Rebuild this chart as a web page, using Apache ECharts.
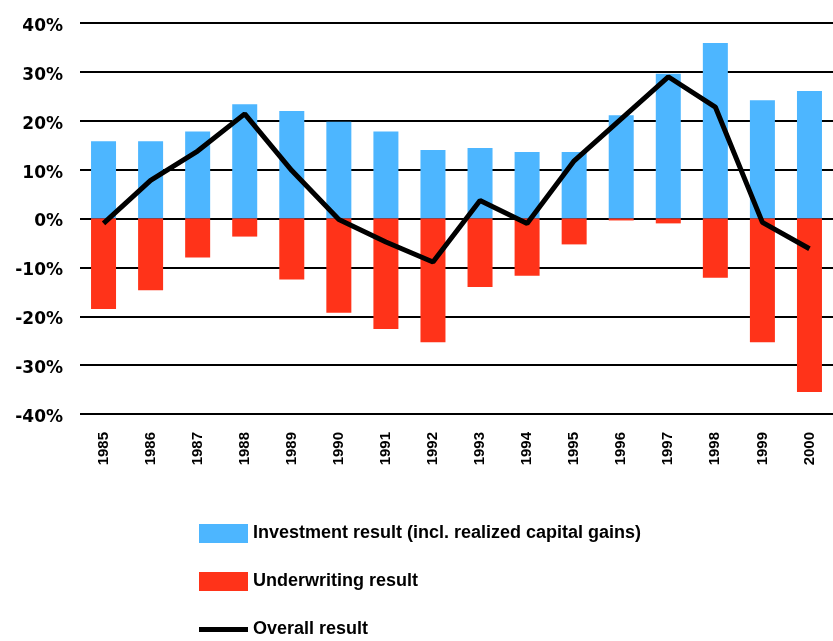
<!DOCTYPE html>
<html>
<head>
<meta charset="utf-8">
<script src="https://cdn.jsdelivr.net/npm/echarts@6/dist/echarts.min.js"></script>
<style>
  html, body { margin: 0; padding: 0; background: #fff; }
  #chart { width: 833px; height: 641px; }
</style>
</head>
<body>
<div id="chart"></div>
<script>
const years = ['1985', '1986', '1987', '1988', '1989', '1990', '1991', '1992',
               '1993', '1994', '1995', '1996', '1997', '1998', '1999', '2000'];

// values in percent
const investment = [15.8, 15.8, 17.8, 23.4, 22.0, 19.8, 17.8, 14.0,
                    14.4, 13.6, 13.6, 21.1, 29.6, 35.9, 24.2, 26.1];
const underwriting = [-18.5, -14.7, -8.0, -3.7, -12.5, -19.3, -22.6, -25.3,
                      -14.0, -11.7, -5.3, -0.4, -1.0, -12.1, -25.3, -35.5];
const overall = [-1.0, 7.8, 13.8, 21.4, 9.8, -0.2, -4.8, -8.9,
                 3.7, -1.0, 11.8, 20.4, 29.0, 22.8, -0.8, -6.2];

const chart = echarts.init(document.getElementById('chart'));

const narrowFont = '"Liberation Sans Narrow", "Liberation Sans", Arial, sans-serif';
const wideFont = '"DejaVu Sans", "Liberation Sans", sans-serif';

chart.setOption({
    animation: false,
    backgroundColor: '#fff',
    grid: { left: 80, right: -11, top: 23, height: 391 },
    legend: {
        orient: 'vertical',
        left: 199,
        top: 524,
        padding: 0,
        itemWidth: 49,
        itemHeight: 19,
        itemGap: 29,
        textStyle: {
            fontFamily: narrowFont, fontWeight: 'bold', fontSize: 18,
            lineHeight: 19, color: '#000'
        },
        data: [
            { name: 'Investment result (incl. realized capital gains)', icon: 'rect' },
            { name: 'Underwriting result', icon: 'rect' },
            // thin bar inside a full-height box, so it reads as a thick line
            { name: 'Overall result', icon: 'path://M0,0 M0,7 L49,7 L49,12 L0,12 Z M49,19' }
        ]
    },
    xAxis: {
        type: 'category',
        data: years,
        axisLine: { show: false },
        axisTick: { show: false },
        axisLabel: {
            rotate: 90,
            margin: 18,
            fontFamily: narrowFont,
            fontWeight: 'bold',
            fontSize: 15,
            color: '#000'
        }
    },
    yAxis: {
        type: 'value',
        min: -40,
        max: 40,
        interval: 10,
        axisLine: { show: false },
        axisTick: { show: false },
        axisLabel: {
            margin: 17,
            formatter: '{p|{value}%}',
            rich: {
                p: {
                    padding: [7, 0, 0, 0],
                    fontFamily: wideFont,
                    fontWeight: 'bold',
                    fontSize: 17,
                    color: '#000'
                }
            }
        },
        splitLine: { lineStyle: { color: '#000', width: 2 } }
    },
    series: [
        {
            name: 'Investment result (incl. realized capital gains)',
            type: 'bar',
            stack: 'r',
            barWidth: 25,
            itemStyle: { color: '#4db6ff' },
            data: investment
        },
        {
            name: 'Underwriting result',
            type: 'bar',
            stack: 'r',
            barWidth: 25,
            itemStyle: { color: '#ff3319' },
            data: underwriting
        },
        {
            name: 'Overall result',
            type: 'line',
            symbol: 'none',
            lineStyle: { color: '#000', width: 5 },
            itemStyle: { color: '#000' },
            z: 5,
            data: overall
        }
    ]
});
</script>
</body>
</html>
